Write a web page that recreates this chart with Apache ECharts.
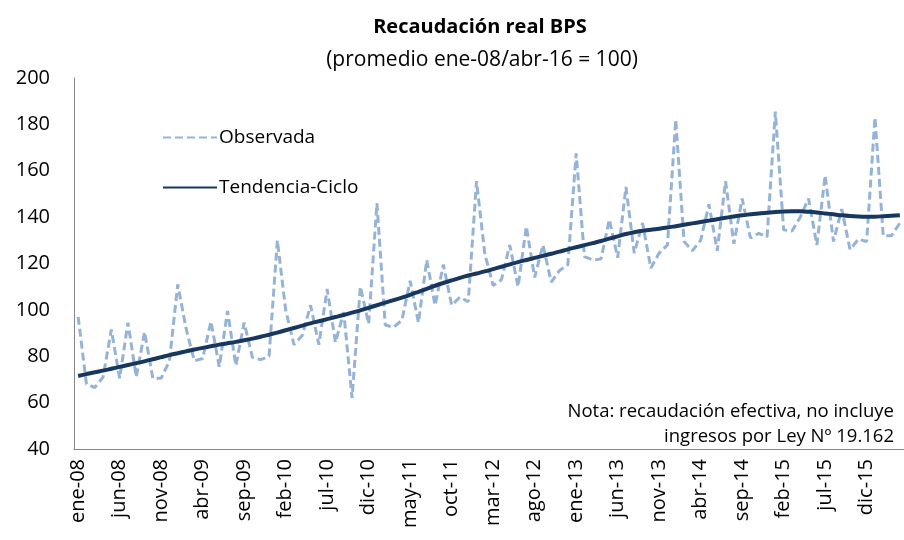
<!DOCTYPE html>
<html>
<head>
<meta charset="utf-8">
<script src="https://cdn.jsdelivr.net/npm/echarts@6/dist/echarts.min.js"></script>
<style>
  html, body { margin: 0; padding: 0; background: #fff; }
  #chart { width: 904px; height: 540px; }
</style>
</head>
<body>
<div id="chart"></div>
<script>
// meses ene-08 .. abr-16
const months = ['ene', 'feb', 'mar', 'abr', 'may', 'jun', 'jul', 'ago', 'sep', 'oct', 'nov', 'dic']
const years = ['08', '09', '10', '11', '12', '13', '14', '15', '16']
const categories = []
years.forEach(y => months.forEach(m => categories.push(m + '-' + y)))
categories.length = 100

const observada = [
  97, 68, 66.5, 71, 91.5, 70.5, 94.5, 71, 90.5, 70.5, 70.5, 78,
  111, 92, 78, 79, 95, 75.5, 99.5, 76, 94.5, 79.5, 78.5, 80,
  130, 100, 85, 89, 102, 85, 109, 86, 99, 62, 110, 94,
  146, 93.5, 92.5, 95.5, 112.5, 94.5, 121.5, 102, 119.5, 102, 105.5, 103.5,
  155.5, 124, 110.5, 113, 128, 110, 136, 114, 128, 112, 117, 119.5,
  167.5, 123, 121.5, 122, 139, 122.5, 153, 124.5, 137.5, 118, 124.5, 128,
  182, 129.5, 125.5, 130, 145.5, 125.5, 155.5, 128.5, 148, 131, 133, 131.5,
  185.5, 134.5, 134, 140, 148, 128, 158, 129.5, 143.5, 126, 130.5, 129.5,
  183, 132, 132, 137.5
]

const tendencia = [
  71.5, 72.3, 73.1, 73.8, 74.6, 75.4, 76.2, 77, 77.8, 78.7, 79.6, 80.5,
  81.3, 82.1, 82.9, 83.6, 84.3, 85, 85.6, 86.2, 86.9, 87.6, 88.4, 89.3,
  90.2, 91.2, 92.2, 93.2, 94.2, 95.1, 96, 96.9, 97.8, 98.8, 99.8, 100.9,
  102, 103.1, 104.2, 105.3, 106.5, 107.8, 109.1, 110.4, 111.6, 112.7, 113.8, 114.8,
  115.7, 116.6, 117.6, 118.6, 119.6, 120.6, 121.5, 122.4, 123.3, 124.2, 125.1, 126.1,
  127, 127.9, 128.8, 129.7, 130.7, 131.7, 132.7, 133.5, 134.1, 134.6, 135, 135.5,
  136.1, 136.7, 137.3, 137.9, 138.5, 139.1, 139.7, 140.3, 140.8, 141.2, 141.6, 141.9,
  142.2, 142.4, 142.5, 142.5, 142.3, 142, 141.6, 141.2, 140.8, 140.5, 140.3, 140.2,
  140.2, 140.4, 140.6, 140.8
]

const yTicks = { min: 40, max: 200, interval: 20 }

const font = '"Open Sans", "Noto Sans", sans-serif'
const chart = echarts.init(document.getElementById('chart'))

const option = {
  backgroundColor: '#fff',
  animation: false,
  textStyle: { fontFamily: font },
  title: [
    {
      text: 'Recaudación real BPS',
      left: 475, top: 12, textAlign: 'center',
      textStyle: { fontFamily: font, fontSize: 20, fontWeight: 'bold', color: '#000' }
    },
    {
      text: '(promedio ene-08/abr-16 = 100)',
      left: 477, top: 45, textAlign: 'center',
      textStyle: { fontFamily: font, fontSize: 21, fontWeight: 'normal', color: '#000' }
    }
  ],
  legend: {
    orient: 'vertical',
    left: 157, top: 123,
    itemWidth: 54, itemHeight: 4,
    itemGap: 31,
    itemStyle: { opacity: 0 },
    textStyle: { fontFamily: font, fontSize: 19, color: '#000', padding: [0, 0, 0, -3] },
    data: ['Observada', 'Tendencia-Ciclo']
  },
  grid: { left: 74, top: 78, width: 833, height: 371 },
  xAxis: {
    type: 'category',
    data: categories,
    boundaryGap: true,
    axisLine: { lineStyle: { color: '#868686', width: 1 } },
    axisTick: { show: false },
    axisLabel: {
      interval: 4,
      rotate: 90,
      margin: 10,
      fontSize: 20,
      color: '#000',
      fontFamily: font
    }
  },
  yAxis: {
    type: 'value',
    min: yTicks.min, max: yTicks.max, interval: yTicks.interval,
    axisLine: { show: true, lineStyle: { color: '#868686', width: 1 } },
    axisTick: { show: false },
    splitLine: { show: false },
    axisLabel: { margin: 24, fontSize: 20, color: '#000', fontFamily: font }
  },
  series: [
    {
      name: 'Observada',
      type: 'line',
      data: observada,
      symbol: 'none',
      lineStyle: { color: '#95B3D7', width: 3, type: [8, 4] },
      itemStyle: { color: '#95B3D7' },
      z: 2
    },
    {
      name: 'Tendencia-Ciclo',
      type: 'line',
      data: tendencia,
      symbol: 'none',
      smooth: 0.3,
      lineStyle: { color: '#17375E', width: 4 },
      itemStyle: { color: '#17375E' },
      z: 3
    }
  ],
  graphic: [
    {
      type: 'text', right: 10, top: 402,
      style: { text: 'Nota: recaudación efectiva, no incluye', font: '18.5px ' + font, fill: '#000', textAlign: 'right' }
    },
    {
      type: 'text', right: 10, top: 427,
      style: { text: 'ingresos por Ley Nº 19.162', font: '18.5px ' + font, fill: '#000', textAlign: 'right' }
    }
  ]
}

chart.setOption(option)
</script>
</body>
</html>
